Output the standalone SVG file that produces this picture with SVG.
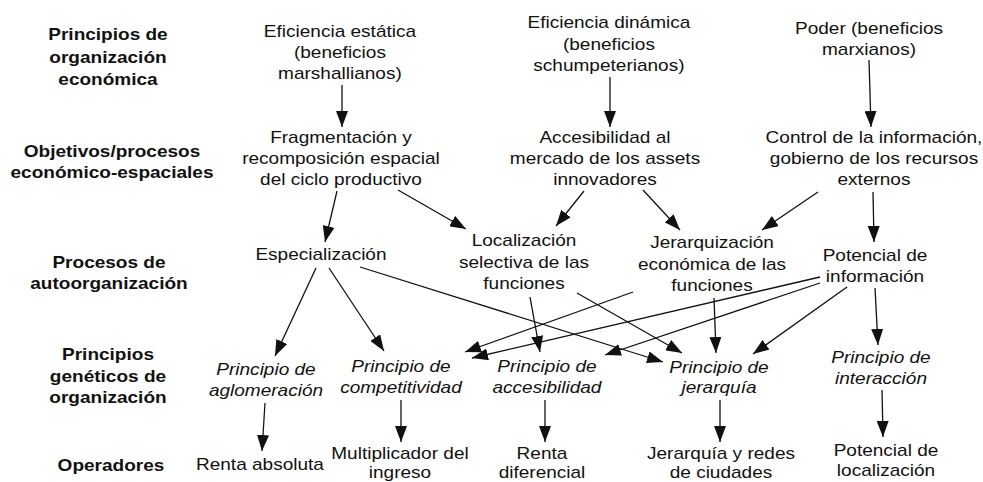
<svg xmlns="http://www.w3.org/2000/svg" width="983" height="482" viewBox="0 0 983 482">
<style>
text { font-family: "Liberation Sans", Arial, sans-serif; font-size: 17px; fill: #111; text-anchor: middle; transform-box: fill-box; transform-origin: center; transform: scaleX(1.12); }
.b { font-weight: bold; }
.i { font-style: italic; }
.c { stroke: #111; stroke-width: 1.3; fill: none; marker-end: url(#ah); }
</style>
<defs>
<marker id="ah" markerUnits="userSpaceOnUse" markerWidth="16" markerHeight="12" refX="16" refY="6" orient="auto">
<path d="M0,0 L16,6 L0,12 z" fill="#111"/>
</marker>
</defs>
<rect width="983" height="482" fill="#fff"/>
<g id="row-labels">
<g id="lab1"><text class="b" x="108"><tspan x="108" y="40">Principios de</tspan><tspan x="108" y="63">organización</tspan><tspan x="108" y="85">económica</tspan></text></g>
<g id="lab2"><text class="b" x="112"><tspan x="112" y="157">Objetivos/procesos</tspan><tspan x="112" y="178">económico-espaciales</tspan></text></g>
<g id="lab3"><text class="b" x="109"><tspan x="109" y="268">Procesos de</tspan><tspan x="109" y="289">autoorganización</tspan></text></g>
<g id="lab4"><text class="b" x="108"><tspan x="108" y="360">Principios</tspan><tspan x="108" y="382">genéticos de</tspan><tspan x="108" y="403">organización</tspan></text></g>
<g id="lab5"><text class="b" x="111" y="471">Operadores</text></g>
</g>
<g id="p1"><text x="340"><tspan x="340" y="37">Eficiencia estática</tspan><tspan x="340" y="58">(beneficios</tspan><tspan x="340" y="79">marshallianos)</tspan></text></g>
<g id="p2"><text x="609"><tspan x="609" y="28">Eficiencia dinámica</tspan><tspan x="609" y="50">(beneficios</tspan><tspan x="609" y="71">schumpeterianos)</tspan></text></g>
<g id="p3"><text x="869"><tspan x="869" y="34">Poder (beneficios</tspan><tspan x="869" y="55">marxianos)</tspan></text></g>
<g id="o1"><text x="341"><tspan x="341" y="143">Fragmentación y</tspan><tspan x="341" y="164">recomposición espacial</tspan><tspan x="341" y="185">del ciclo productivo</tspan></text></g>
<g id="o2"><text x="605"><tspan x="605" y="143">Accesibilidad al</tspan><tspan x="605" y="164">mercado de los assets</tspan><tspan x="605" y="185">innovadores</tspan></text></g>
<g id="o3"><text x="874"><tspan x="874" y="143">Control de la información,</tspan><tspan x="874" y="164">gobierno de los recursos</tspan><tspan x="874" y="185">externos</tspan></text></g>
<g id="s1"><text x="321" y="260">Especialización</text></g>
<g id="s2"><text x="524"><tspan x="524" y="246">Localización</tspan><tspan x="524" y="268">selectiva de las</tspan><tspan x="524" y="289">funciones</tspan></text></g>
<g id="s3"><text x="712"><tspan x="712" y="248">Jerarquización</tspan><tspan x="712" y="270">económica de las</tspan><tspan x="712" y="291">funciones</tspan></text></g>
<g id="s4"><text x="875"><tspan x="875" y="261">Potencial de</tspan><tspan x="875" y="282">información</tspan></text></g>
<g id="g1"><text class="i" x="266"><tspan x="266" y="375">Principio de</tspan><tspan x="266" y="396">aglomeración</tspan></text></g>
<g id="g2"><text class="i" x="401"><tspan x="401" y="372">Principio de</tspan><tspan x="401" y="393">competitividad</tspan></text></g>
<g id="g3"><text class="i" x="547"><tspan x="547" y="372">Principio de</tspan><tspan x="547" y="393">accesibilidad</tspan></text></g>
<g id="g4"><text class="i" x="719"><tspan x="719" y="373">Principio de</tspan><tspan x="719" y="393">jerarquía</tspan></text></g>
<g id="g5"><text class="i" x="881"><tspan x="881" y="363">Principio de</tspan><tspan x="881" y="384">interacción</tspan></text></g>
<g id="r1"><text x="260" y="470">Renta absoluta</text></g>
<g id="r2"><text x="400"><tspan x="400" y="459">Multiplicador del</tspan><tspan x="400" y="478">ingreso</tspan></text></g>
<g id="r3"><text x="542"><tspan x="542" y="459">Renta</tspan><tspan x="542" y="478">diferencial</tspan></text></g>
<g id="r4"><text x="721"><tspan x="721" y="459">Jerarquía y redes</tspan><tspan x="721" y="478">de ciudades</tspan></text></g>
<g id="r5"><text x="886"><tspan x="886" y="456">Potencial de</tspan><tspan x="886" y="476">localización</tspan></text></g>
<g id="connectors">
<line class="c" x1="342" y1="85" x2="342" y2="127"/>
<line class="c" x1="610" y1="77" x2="610" y2="127"/>
<line class="c" x1="869" y1="60" x2="871" y2="127"/>
<line class="c" x1="337" y1="191" x2="325" y2="242"/>
<line class="c" x1="398" y1="190" x2="466" y2="229"/>
<line class="c" x1="584" y1="191" x2="556" y2="226"/>
<line class="c" x1="643" y1="190" x2="680" y2="230"/>
<line class="c" x1="818" y1="192" x2="762" y2="230"/>
<line class="c" x1="873" y1="192" x2="874" y2="242"/>
<line class="c" x1="316" y1="268" x2="275" y2="356"/>
<line class="c" x1="329" y1="268" x2="384" y2="351"/>
<line class="c" x1="360" y1="267" x2="663" y2="362"/>
<line class="c" x1="633" y1="292" x2="465" y2="352"/>
<line class="c" x1="820" y1="277" x2="472" y2="358"/>
<line class="c" x1="820" y1="283" x2="605" y2="355"/>
<line class="c" x1="530" y1="297" x2="540" y2="352"/>
<line class="c" x1="577" y1="293" x2="682" y2="353"/>
<line class="c" x1="714" y1="298" x2="716" y2="353"/>
<line class="c" x1="847" y1="287" x2="753" y2="354"/>
<line class="c" x1="875" y1="288" x2="878" y2="345"/>
<line class="c" x1="265" y1="403" x2="262" y2="451"/>
<line class="c" x1="401" y1="400" x2="401" y2="442"/>
<line class="c" x1="545" y1="400" x2="545" y2="442"/>
<line class="c" x1="720" y1="400" x2="720" y2="442"/>
<line class="c" x1="882" y1="390" x2="883" y2="437"/>
</g>
</svg>
